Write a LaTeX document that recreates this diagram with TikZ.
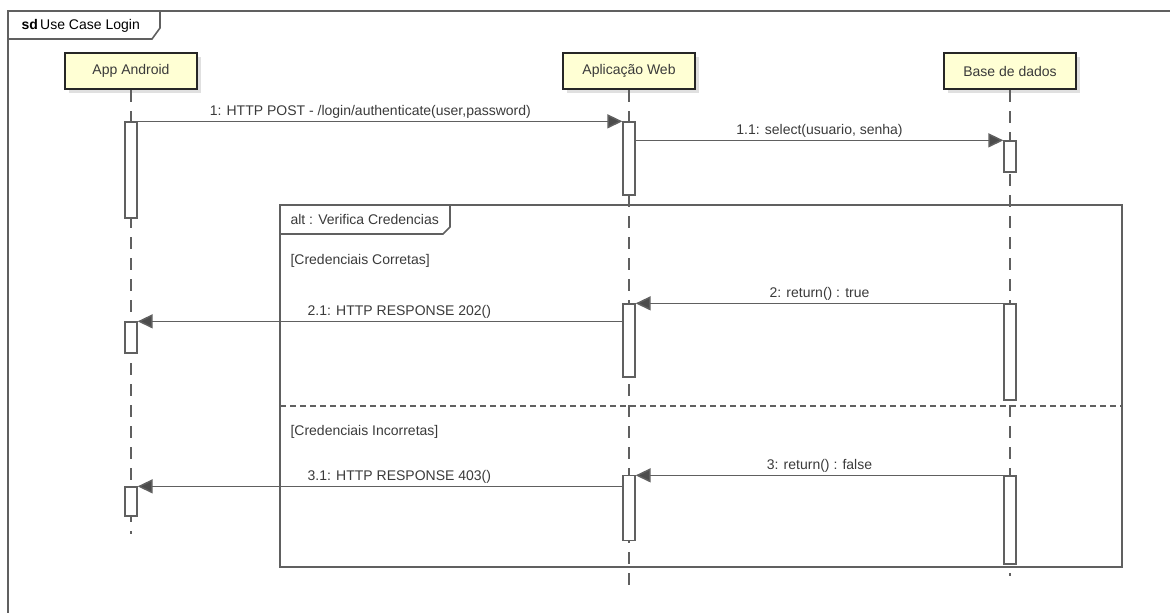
\documentclass[tikz,border=0pt]{standalone}
\usepackage{fontspec}
\setmainfont{Liberation Sans}
\usetikzlibrary{arrows.meta, calc, positioning, shadows}
\definecolor{lifebox}{RGB}{255,255,212}
\definecolor{linegray}{RGB}{96,96,96}
\definecolor{txtgray}{RGB}{58,58,58}

\begin{document}
\begin{tikzpicture}[% styles used in image code
        x = 1pt, y = -1pt,
        > = {Triangle[length=15pt, width=14pt, fill=black!70]},
every node/.style = {font=\fontsize{14}{16}\selectfont, text=txtgray},
head/.style = {draw=black!85, line width=2.4pt, fill=lifebox,
               minimum width=132pt, minimum height=36pt,
               drop shadow={shadow xshift=4pt, shadow yshift=-4pt,
                            fill=black!12, opacity=1}},
act/.style  = {draw=linegray, line width=1.3pt, fill=white,
               minimum width=12pt, inner sep=0pt},
life/.style = {draw=linegray, line width=1.3pt,
               dash pattern=on 12pt off 9pt},
msg/.style  = {draw=linegray, line width=1.5pt, ->},
frame/.style = {draw=linegray, line width=1.6pt},
lbl/.style  = {above, inner sep=2pt}
                        ]
	\useasboundingbox (0,0) rectangle (1170,613);

	% diagram frame
	\draw[frame] (1170,11) -- (8,11) -- (8,613);
	\draw[frame] (8,39) -- (152,39) -- (160,28) -- (160,11);
	\node[anchor=west, text=black] (sd) at (18,26) {{\bfseries sd}\,Use Case Login};

	% lifelines
	\node[head] (app) at (131,71) {App Android};
	\node[head] (web) at (629,71) {Aplicação Web};
	\node[head] (db)  at (1010,71) {Base de dados};

	\coordinate (app end) at (131,534);
	\coordinate (web end) at (629,585);
	\coordinate (db end)  at (1010,576);

	\draw[life] (app.south) -- (app end);
	\draw[life] (web.south) -- (web end);
	\draw[life] (db.south) -- (db end);

	% alt fragment
	\coordinate (alt nw) at (280,205);
	\coordinate (alt se) at (1122,567);
	\draw[frame] (alt nw) rectangle (alt se);
	\draw[frame] (280,234) -- (443,234) -- (450,227) -- (450,205);
	\node[anchor=west] (alt) at (287,219) {alt : Verifica Credencias};
	\node[anchor=west] (ok)  at (287,261) {[Credenciais Corretas]};
	\draw[linegray, line width=1.3pt, dash pattern=on 6pt off 4pt] (280,406) -- (1122,406);
	\node[anchor=west] (nok) at (287,432) {[Credenciais Incorretas]};

	% activations
	\node[act, minimum height=96pt] (a1) at (131,170) {};
	\node[act, minimum height=73pt] (w1) at (629,158.5) {};
	\node[act, minimum height=31pt] (d1) at (1010,156.5) {};
	\node[act, minimum height=96pt] (d2) at (1010,352) {};
	\node[act, minimum height=73pt] (w2) at (629,340.5) {};
	\node[act, minimum height=31pt] (a2) at (131,337.5) {};
	\node[act, minimum height=88pt] (d3) at (1010,520) {};
	\node[act, minimum height=65pt] (w3) at (629,508) {};
	\node[act, minimum height=29pt] (a3) at (131,501.5) {};

	% messages
	\draw[msg] (a1.north east) -- (w1.north west) node[lbl, pos=0.48] {1: HTTP POST - /login/authenticate(user,password)};
	\draw[msg] (w1.east |- d1.north) -- (d1.north west) node[lbl, midway] {1.1: select(usuario, senha)};
	\draw[msg] (d2.north west) -- (w2.north east) node[lbl, midway] {2: return() : true};
	\draw[msg] (w2.west |- a2.north) -- (a2.north east) node[lbl, pos=0.46] {2.1: HTTP RESPONSE 202()};
	\draw[msg] (d3.north west) -- (w3.east |- d3.north) node[lbl, midway] {3: return() : false};
	\draw[msg] (w3.west |- a3.north) -- (a3.north east) node[lbl, pos=0.46] {3.1: HTTP RESPONSE 403()};
\end{tikzpicture}
\end{document}
